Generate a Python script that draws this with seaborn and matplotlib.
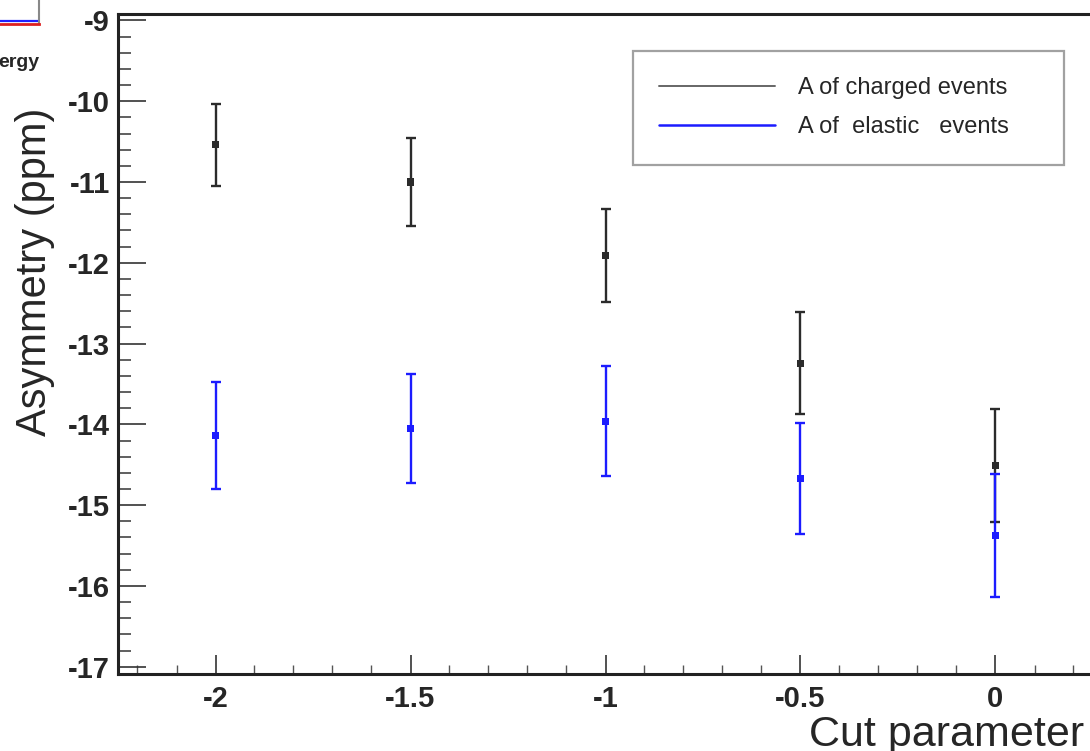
import numpy as np
import pandas as pd
import seaborn as sns
import matplotlib
matplotlib.use("Agg")
import matplotlib.pyplot as plt
from matplotlib.ticker import MultipleLocator, FixedLocator, FixedFormatter
from matplotlib.lines import Line2D

# ---- data ----
cut_param = [-2.0, -1.5, -1.0, -0.5, 0.0]
charged_A = [-10.54, -11.00, -11.91, -13.245, -14.51]
charged_err = [0.51, 0.55, 0.58, 0.63, 0.70]
elastic_A = [-14.14, -14.05, -13.96, -14.67, -15.38]
elastic_err = [0.66, 0.67, 0.68, 0.69, 0.76]
series_names = ["A of charged events", "A of  elastic   events"]
xtick_vals = [-2.0, -1.5, -1.0, -0.5, 0.0]
xtick_labels = ["-2", "-1.5", "-1", "-0.5", "0"]
ytick_vals = [-17, -16, -15, -14, -13, -12, -11, -10, -9]
ytick_labels = ["-17", "-16", "-15", "-14", "-13", "-12", "-11", "-10", "-9"]

sns.set_theme(style="ticks")
plt.rcParams["font.family"] = ["Liberation Sans", "DejaVu Sans"]
plt.rcParams["axes.unicode_minus"] = False

W, H = 1090, 751
fig = plt.figure(figsize=(W / 100, H / 100), dpi=100)

# main axes (right edge extends beyond the figure, as in the cropped original)
left_px, top_px, bottom_px = 118, 14, 674
xlim = (-2.25, 0.30)
px_per_unit = 390.0
width_px = (xlim[1] - xlim[0]) * px_per_unit
ax = fig.add_axes([left_px / W, 1 - bottom_px / H, width_px / W, (bottom_px - top_px) / H])

df = pd.DataFrame({
    "cut": cut_param * 2,
    "A": charged_A + elastic_A,
    "err": charged_err + elastic_err,
    "series": [series_names[0]] * 5 + [series_names[1]] * 5,
})
colors = {series_names[0]: "#2b2b2b", series_names[1]: "#1c1cff"}

for name, sub in df.groupby("series", sort=False):
    ax.errorbar(sub["cut"], sub["A"], yerr=sub["err"], fmt="none",
                ecolor=colors[name], elinewidth=1.7, capsize=3.5, capthick=1.7, zorder=2)

sns.scatterplot(data=df, x="cut", y="A", hue="series", palette=colors, marker="s",
                s=26, edgecolor="none", legend=False, ax=ax, zorder=3)

ax.set_xlim(*xlim)
ax.set_ylim(-17.09, -8.92)
ax.set_xlabel("")
ax.set_ylabel("")

ax.xaxis.set_major_locator(FixedLocator(xtick_vals))
ax.xaxis.set_major_formatter(FixedFormatter(xtick_labels))
ax.xaxis.set_minor_locator(MultipleLocator(0.1))
ax.yaxis.set_major_locator(FixedLocator(ytick_vals))
ax.yaxis.set_major_formatter(FixedFormatter(ytick_labels))
ax.yaxis.set_minor_locator(MultipleLocator(0.2))

ax.tick_params(axis="x", which="major", direction="in", length=14, width=1.2,
               color="#333333", labelsize=21, pad=8)
ax.tick_params(axis="x", which="minor", direction="in", length=6.5, width=1.0, color="#555555")
ax.tick_params(axis="y", which="major", direction="in", length=20, width=1.2,
               color="#333333", labelsize=21, pad=6)
ax.tick_params(axis="y", which="minor", direction="in", length=9.5, width=1.2, color="#444444")
for lab in ax.get_xticklabels() + ax.get_yticklabels():
    lab.set_fontweight("bold")

for sp in ["left", "bottom", "top", "right"]:
    ax.spines[sp].set_linewidth(2.2)
    ax.spines[sp].set_color("#222222")

# legend
handles = [Line2D([0], [0], color="#666666", lw=1.4),
           Line2D([0], [0], color="#1c1cff", lw=1.8)]
leg = fig.legend(handles, series_names, loc="upper left",
                 bbox_to_anchor=(633 / W, 1 - 160 / H, (1064 - 633) / W, (160 - 51) / H),
                 bbox_transform=fig.transFigure, mode="expand", borderaxespad=0,
                 fontsize=17, handlelength=4.9, handletextpad=0.95, borderpad=1.12,
                 labelspacing=0.72, fancybox=False, frameon=True)
leg.get_frame().set_edgecolor("#8a8a8a")
leg.get_frame().set_linewidth(1.6)

# axis titles
fig.text(35 / W, 1 - 272 / H, "Asymmetry (ppm)", rotation=90, ha="center", va="center",
         fontsize=30)
fig.text(1084 / W, 1 - 746 / H, "Cut parameter", ha="right", va="baseline", fontsize=31)

# fragment of a neighbouring panel at the top-left corner
frag = fig.add_axes([0, 1 - 24 / H, 39 / W, 24 / H])
frag.set_xlim(0, 1)
frag.set_ylim(0, 1)
frag.axhline(0.12, color="#2020ff", lw=1.6)
frag.set_xticks([])
frag.set_yticks([])
for sp in ["left", "top"]:
    frag.spines[sp].set_visible(False)
frag.spines["right"].set_color("#888888")
frag.spines["right"].set_linewidth(1.5)
frag.spines["bottom"].set_color("#dd2020")
frag.spines["bottom"].set_linewidth(2.0)
frag.patch.set_alpha(0)
fig.text(39 / W, 1 - 67 / H, "ergy", ha="right", va="baseline", fontsize=14,
         fontweight="bold")

fig.savefig("out.png", dpi=100)
